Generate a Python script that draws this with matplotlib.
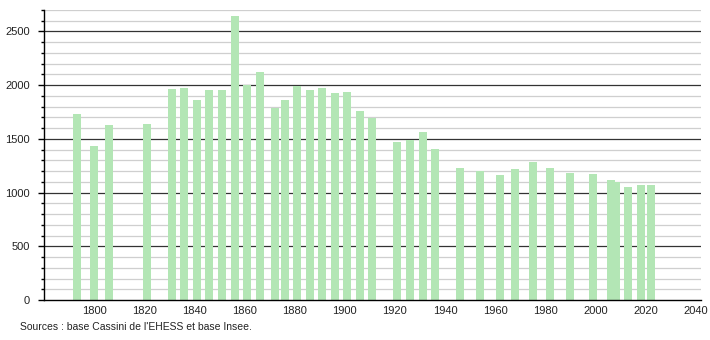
import matplotlib
matplotlib.use('Agg')
import matplotlib.pyplot as plt
import matplotlib.ticker as ticker

# census years and population
years = [1793, 1800, 1806, 1821, 1831, 1836, 1841, 1846, 1851, 1856,
         1861, 1866, 1872, 1876, 1881, 1886, 1891, 1896, 1901, 1906,
         1911, 1921, 1926, 1931, 1936, 1946, 1954, 1962, 1968, 1975,
         1982, 1990, 1999, 2006, 2008, 2013, 2018, 2022]
population = [1735, 1430, 1626, 1636, 1963, 1972, 1860, 1953, 1953, 2645,
              2000, 2121, 1785, 1860, 1991, 1953, 1972, 1925, 1935, 1757,
              1698, 1467, 1486, 1561, 1402, 1227, 1199, 1162, 1218, 1283,
              1227, 1180, 1171, 1115, 1103, 1050, 1068, 1068]

x_ticks = [1800, 1820, 1840, 1860, 1880, 1900, 1920, 1940, 1960, 1980,
           2000, 2020, 2040]
y_ticks = [0, 500, 1000, 1500, 2000, 2500]
source = "Sources : base Cassini de l'EHESS et base Insee."

plt.rcParams['font.family'] = ['Liberation Sans', 'DejaVu Sans']

fig = plt.figure(figsize=(7.1, 3.4), dpi=100)
ax = fig.add_axes([0.062, 0.1176, 0.925, 0.853])

# grid: light every 100, dark every 500
for v in range(100, 2800, 100):
    if v % 500 == 0:
        ax.axhline(v, color='#333333', lw=0.9, zorder=1)
    else:
        ax.axhline(v, color='#cfcfcf', lw=0.9, zorder=1)

ax.bar(years, population, width=3.2, color='#b3e6b5', zorder=2)

ax.set_xlim(1780, 2042)
ax.set_ylim(0, 2700)
ax.set_xticks(x_ticks)
ax.set_yticks(y_ticks)
ax.yaxis.set_minor_locator(ticker.MultipleLocator(100))

for side in ['top', 'right']:
    ax.spines[side].set_visible(False)
ax.spines['left'].set_linewidth(1.0)
ax.spines['bottom'].set_linewidth(1.0)

ax.tick_params(axis='x', length=0, pad=4, labelsize=8, colors='#222222')
ax.tick_params(axis='y', which='major', length=4, width=1, pad=6,
               labelsize=8, labelcolor='#222222')
ax.tick_params(axis='y', which='minor', length=2.5, width=1)

fig.text(0.028, 0.038, source, fontsize=7.5, va='center', ha='left',
         color='#222222')

fig.savefig('out.png', dpi=100)
